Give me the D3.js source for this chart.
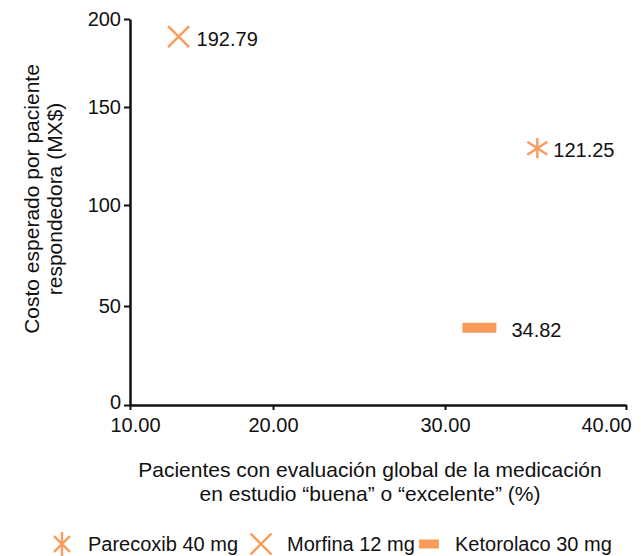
<!DOCTYPE html>
<html>
<head>
  <meta charset="utf-8">
  <title>Costo esperado por paciente respondedora</title>
  <script src="https://cdn.jsdelivr.net/npm/d3@7/dist/d3.min.js"></script>
  <style>
    body { margin: 0; background: #fff; }
    text { font-family: "Liberation Sans", Arial, sans-serif; fill: #111; }
  </style>
</head>
<body>
<svg width="641" height="556"></svg>

<script>
  // datos
  var farmacos = ["Parecoxib 40 mg", "Morfina 12 mg", "Ketorolaco 30 mg"];
  var simbolos = ["asterisco", "cruz", "barra"];
  var pctBuena = [35.1, 13.4, 31.9];          // eje x (%)
  var costoPos = [129, 190, 39];              // posicion dibujada en el eje y
  var costoEtiqueta = ["121.25", "192.79", "34.82"];
  var xTicks = [10, 20, 30, 40];
  var yTicks = [0, 50, 100, 150, 200];

  var naranja = "#f89b5b";
  var svg = d3.select("svg");

  // las escalas de la figura original no son del todo uniformes
  var x = d3.scaleLinear().domain(xTicks).range([130, 273, 445, 626]);
  var y = d3.scaleLinear().domain(yTicks).range([405, 306, 205, 107, 19]);

  // eje y
  var gy = svg.append("g")
    .attr("transform", "translate(" + x(10) + ",0)")
    .call(d3.axisLeft(y).tickValues(yTicks).tickSize(6).tickSizeOuter(0).tickPadding(3));
  gy.select(".domain").attr("stroke", "#111").attr("stroke-width", 2.5);
  gy.selectAll(".tick line").attr("stroke", "#111").attr("stroke-width", 2);
  gy.selectAll(".tick text").style("font-size", "20px").attr("fill", "#111")
    .attr("y", function(d) { return d == 0 ? -3 : 0; });

  // eje x
  var gx = svg.append("g")
    .attr("transform", "translate(0," + y(0) + ")")
    .call(d3.axisBottom(x).tickValues(xTicks).tickSize(5).tickSizeOuter(0).tickPadding(8)
      .tickFormat(d3.format(".2f")));
  gx.select(".domain").attr("stroke", "#111").attr("stroke-width", 2.5);
  gx.selectAll(".tick line").attr("stroke", "#111").attr("stroke-width", 2);
  gx.selectAll(".tick text").style("font-size", "20px").attr("fill", "#111")
    .attr("dx", function(d) { return d == 10 ? 5 : (d == 40 ? -20 : 0); });

  // simbolos (w = ancho, h = alto)
  function linea(g, x1, y1, x2, y2) {
    g.append("line").attr("x1", x1).attr("y1", y1).attr("x2", x2).attr("y2", y2)
      .attr("stroke", naranja).attr("stroke-width", 2.4);
  }
  function dibujaSimbolo(g, tipo, w, h) {
    var a = w / 2, b = h / 2;
    if (tipo == "asterisco") {
      linea(g, 0, -b, 0, b);
      linea(g, -a, -b * 0.65, a, b * 0.65);
      linea(g, -a, b * 0.65, a, -b * 0.65);
    } else if (tipo == "cruz") {
      linea(g, -a, -b, a, b);
      linea(g, -a, b, a, -b);
    } else {
      g.append("rect").attr("x", -a).attr("y", -b).attr("width", w).attr("height", h)
        .attr("fill", naranja);
    }
  }

  var anchoPunto = [20, 21, 34], altoPunto = [20, 21, 10];
  var sepEtiqueta = [16, 18, 32];

  farmacos.forEach(function(f, i) {
    var g = svg.append("g")
      .attr("transform", "translate(" + x(pctBuena[i]) + "," + y(costoPos[i]) + ")");
    dibujaSimbolo(g, simbolos[i], anchoPunto[i], altoPunto[i]);
    g.append("text")
      .attr("x", sepEtiqueta[i])
      .attr("y", 9)
      .style("font-size", "20px")
      .text(costoEtiqueta[i]);
  });

  // titulos de ejes
  var tx = svg.append("text")
    .attr("x", 370)
    .attr("y", 477)
    .attr("text-anchor", "middle")
    .style("font-size", "21px");
  tx.append("tspan").attr("x", 370).text("Pacientes con evaluación global de la medicación");
  tx.append("tspan").attr("x", 370).attr("dy", 24).text("en estudio “buena” o “excelente” (%)");

  var ty = svg.append("text")
    .attr("transform", "translate(39,199) rotate(-90)")
    .attr("text-anchor", "middle")
    .style("font-size", "21px");
  ty.append("tspan").attr("x", 0).text("Costo esperado por paciente");
  ty.append("tspan").attr("x", 0).attr("dy", 23).text("respondedora (MX$)");

  // leyenda
  var leyX = [62, 261, 429];
  var anchoLey = [16, 21, 20], altoLey = [24, 21, 9];
  farmacos.forEach(function(f, i) {
    var g = svg.append("g").attr("transform", "translate(" + leyX[i] + ",544)");
    dibujaSimbolo(g, simbolos[i], anchoLey[i], altoLey[i]);
    g.append("text")
      .attr("x", 26)
      .attr("y", 7)
      .style("font-size", "20px")
      .text(f);
  });
</script>
</body>
</html>
